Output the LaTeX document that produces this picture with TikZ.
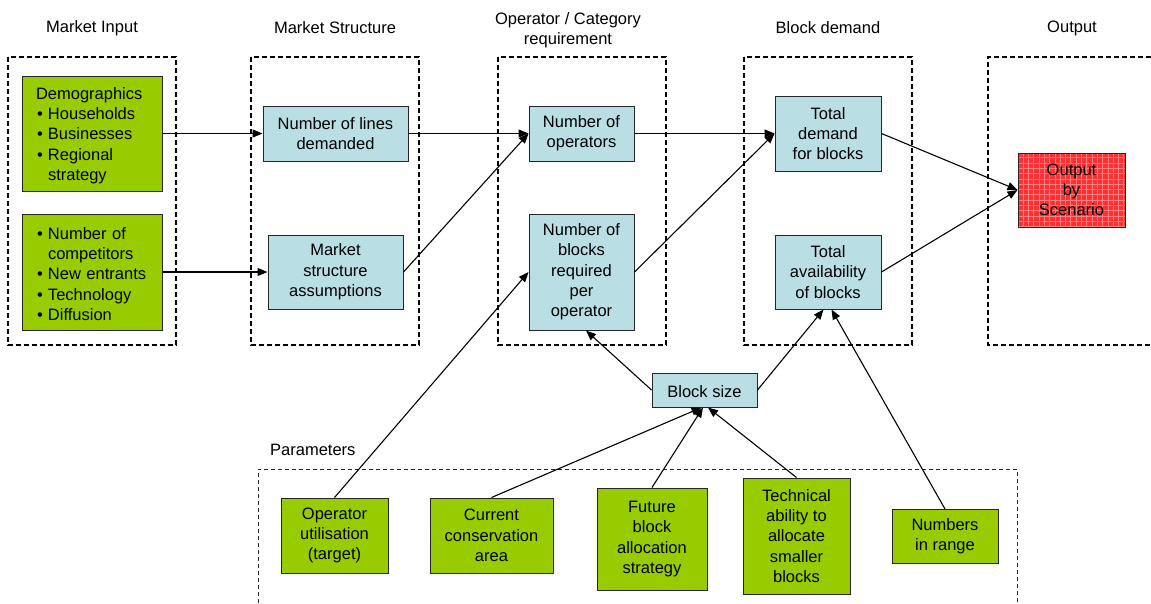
\documentclass[tikz,border=0pt]{standalone}
\usepackage{fontspec}
\setmainfont{Liberation Sans}
\usetikzlibrary{arrows.meta}
\definecolor{gbox}{HTML}{99CC00}
\definecolor{bbox}{HTML}{B9DFE4}
\definecolor{rbox}{HTML}{FF3030}
\definecolor{rgrid}{HTML}{FF8080}
\tikzset{
  txt/.style={font=\fontsize{16.5}{20.3}\selectfont, execute at begin node={\rule{0pt}{16pt}}},
  boxbase/.style={draw=black!85, line width=1pt, inner sep=0pt, align=center, txt},
  greenbox/.style={boxbase, fill=gbox},
  bluebox/.style={boxbase, fill=bbox},
  colbox/.style={line width=1.3pt, dash pattern=on 5pt off 3pt},
  parbox/.style={line width=0.9pt, dash pattern=on 4pt off 3pt, draw=black!85},
  conn/.style={line width=1.1pt, -{Triangle[length=10pt,width=8pt]}},
  header/.style={txt, inner sep=0pt, align=center},
}
\begin{document}
\begin{tikzpicture}[x=1pt,y=-1pt]
\useasboundingbox (0,0) rectangle (1151,603);
% column frames
\draw[colbox] (8,57) rectangle (176,345);
\draw[colbox] (251,57) rectangle (419,345);
\draw[colbox] (498,57) rectangle (666,345);
\draw[colbox] (744,57) rectangle (912,345);
\draw[colbox] (1151,57) -- (988,57) -- (988,345) -- (1151,345);
\draw[parbox] (258,603) -- (258,469) -- (1017,469) -- (1017,603);
% headers
\node[header] (h1) at (92,26) {Market Input};
\node[header] (h2) at (335,26) {Market Structure};
\node[header] (h3) at (568,30) {Operator / Category\\requirement};
\node[header] (h4) at (828,26) {Block demand};
\node[header] (h5) at (1072,26) {Output};
\node[header, anchor=west] (hp) at (270,448) {Parameters};
% market input
\node[greenbox, minimum width=140pt, minimum height=115pt, text width=112pt, inner xsep=14pt, align=left] (demo) at (92,133.5)
 {Demographics\\
  \makebox[12pt][l]{\hspace{1pt}•}Households\\
  \makebox[12pt][l]{\hspace{1pt}•}Businesses\\
  \makebox[12pt][l]{\hspace{1pt}•}Regional\\
  \hspace*{12pt}strategy};
\node[greenbox, minimum width=140pt, minimum height=116pt, text width=112pt, inner xsep=14pt, align=left] (comp) at (92,272)
 {\makebox[12pt][l]{\hspace{1pt}•}Number of\\
  \hspace*{12pt}competitors\\
  \makebox[12pt][l]{\hspace{1pt}•}New entrants\\
  \makebox[12pt][l]{\hspace{1pt}•}Technology\\
  \makebox[12pt][l]{\hspace{1pt}•}Diffusion};
% market structure
\node[bluebox, minimum width=145pt, minimum height=55pt] (ld) at (335.5,133.5) {Number of lines\\demanded};
\node[bluebox, minimum width=135pt, minimum height=74pt] (msa) at (335.5,272) {Market\\structure\\assumptions};
% operator
\node[bluebox, minimum width=105pt, minimum height=55pt] (nop) at (581.5,133.5) {Number of\\operators};
\node[bluebox, minimum width=105pt, minimum height=116pt] (nbr) at (581.5,272) {Number of\\blocks\\required\\per\\operator};
% block demand
\node[bluebox, minimum width=106pt, minimum height=75pt] (tdb) at (828,133.5) {Total\\demand\\for blocks};
\node[bluebox, minimum width=106pt, minimum height=74pt] (tab) at (828,272) {Total\\availability\\of blocks};
\node[bluebox, minimum width=105pt, minimum height=34pt] (bs) at (704.5,390) {Block size};
% output
\node[boxbase, fill=rbox, minimum width=107pt, minimum height=74pt,
  path picture={\draw[rgrid, line width=0.6pt, step=5.3pt] (path picture bounding box.south west) grid (path picture bounding box.north east);}]
  (out) at (1071.5,190) {Output\\by\\Scenario};
% parameters
\node[greenbox, minimum width=107pt, minimum height=75pt] (p1) at (334.5,535.5) {Operator\\utilisation\\(target)};
\node[greenbox, minimum width=123pt, minimum height=75pt] (p2) at (491.5,535.5) {Current\\conservation\\area};
\node[greenbox, minimum width=110pt, minimum height=102pt] (p3) at (652,539) {Future\\block\\allocation\\strategy};
\node[greenbox, minimum width=107pt, minimum height=116pt] (p4) at (796.5,536) {Technical\\ability to\\allocate\\smaller\\blocks};
\node[greenbox, minimum width=106pt, minimum height=54pt] (p5) at (945,536.5) {Numbers\\in range};
% connectors
\draw[conn] (demo.east) -- (ld.west);
\draw[conn] (comp.east) -- (msa.west);
\draw[conn] (ld.east) -- (nop.west);
\draw[conn] (msa.east) -- (nop.west);
\draw[conn] (nop.east) -- (tdb.west);
\draw[conn] (nbr.east) -- (tdb.west);
\draw[conn] (tdb.east) -- (out.west);
\draw[conn] (tab.east) -- (out.west);
\draw[conn] (p1.north) -- (nbr.west);
\draw[conn] (bs.west) -- ([xshift=4.5pt]nbr.south);
\draw[conn] (bs.east) -- ([xshift=-4.5pt]tab.south);
\draw[conn] (p5.north) -- ([xshift=3.5pt]tab.south);
\draw[conn] (p2.north) -- ([xshift=-3pt]bs.south);
\draw[conn] (p3.north) -- ([xshift=-1.5pt]bs.south);
\draw[conn] (p4.north) -- ([xshift=3.5pt]bs.south);
\end{tikzpicture}
\end{document}
